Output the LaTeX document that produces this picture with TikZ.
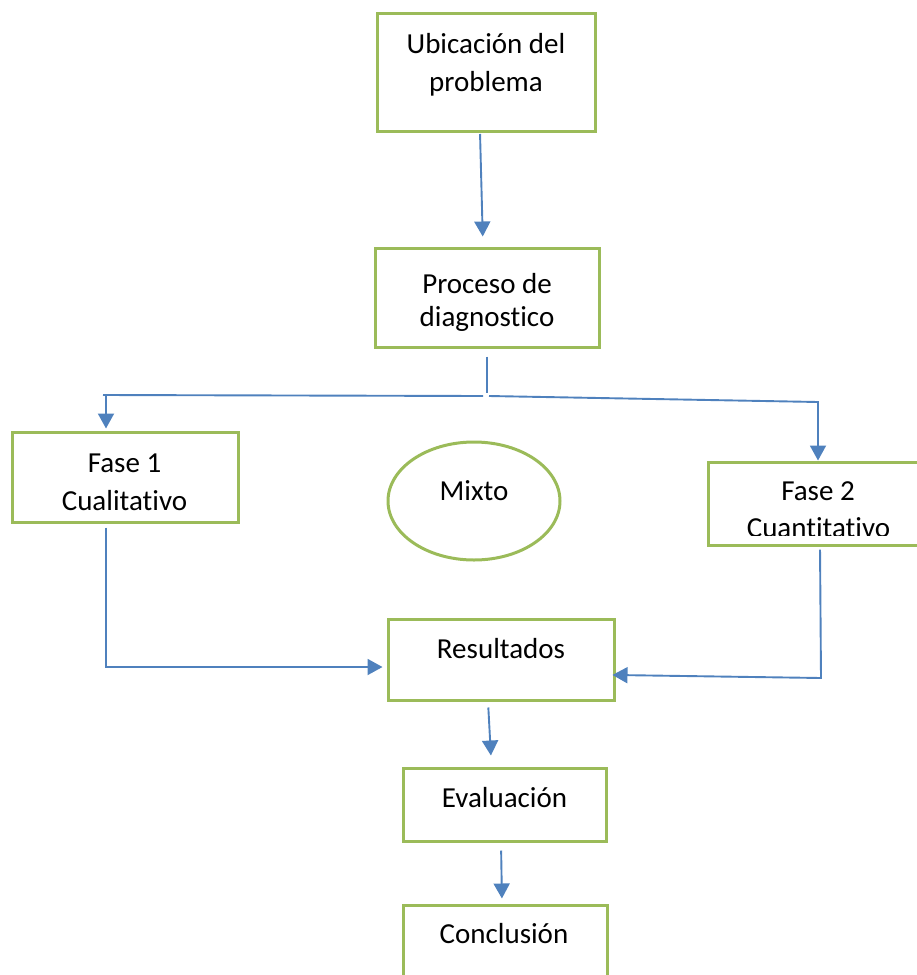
\documentclass[tikz,border=0pt]{standalone}
\usepackage{fontspec}
\setmainfont{Carlito}[Ligatures=NoCommon]
\usetikzlibrary{arrows.meta,shapes.geometric}
\definecolor{boxgreen}{HTML}{9BBB59}
\definecolor{linkblue}{HTML}{4F81BD}
\begin{document}
\begin{tikzpicture}[x=1pt,y=-1pt,
  box/.style={draw=boxgreen,line width=3pt,rectangle,inner sep=0pt},
  oval/.style={draw=boxgreen,line width=3pt,ellipse,inner sep=0pt},
  txt/.style={anchor=base,inner sep=0pt,font=\fontsize{29pt}{38pt}\selectfont},
  wire/.style={draw=linkblue,line width=1.9pt},
  link/.style={wire,-{Triangle[width=16pt,length=15pt]}}]
\useasboundingbox (0,0) rectangle (917,975);
\clip (0,0) rectangle (917,975);

% boxes
\node[box,minimum width=218pt,minimum height=118pt] (ubic) at (486,72) {};
\node[box,minimum width=224pt,minimum height=99pt] (proc) at (487,297.5) {};
\node[box,minimum width=226pt,minimum height=90pt] (fase1) at (125,477) {};
\node[oval,minimum width=172pt,minimum height=118pt] (mixto) at (474,501) {};
\node[box,minimum width=226pt,minimum height=81pt] (result) at (501,659.5) {};
\node[box,minimum width=203pt,minimum height=73pt] (evalua) at (504.5,804.5) {};
\node[box,minimum width=204pt,minimum height=80pt] (concl) at (505,945) {};

% labels
\node[txt] (ubicA) at (486,53) {Ubicación del};
\node[txt] (ubicB) at (486,91) {problema};
\node[txt] (procA) at (487,293) {Proceso de};
\node[txt] (procB) at (487,326) {diagnostico};
\node[txt] (fase1A) at (124.5,472) {Fase 1};
\node[txt] (fase1B) at (124.5,510) {Cualitativo};
\node[txt] (mixtoT) at (474,500) {Mixto};
\node[txt] (resultT) at (501,658) {Resultados};
\node[txt] (evaluaT) at (504.5,807) {Evaluación};
\node[txt] (conclT) at (504,943) {Conclusión};

% second phase: its lower line is trimmed by the box edge
\begin{scope}
  \clip (700,455) rectangle (917,535);
  \node[txt] (fase2A) at (818,500) {Fase 2};
  \node[txt] (fase2B) at (818.5,537) {Cuantitativo};
\end{scope}
\node[box,minimum width=220pt,minimum height=83pt] (fase2) at (818,503.5) {};

% connectors
\draw[link,shorten <=1.5pt,shorten >=10pt] ([xshift=-6pt]ubic.south) -- ([xshift=-4pt]proc.north);

\coordinate (fork) at (487,393);
\coordinate (forkL) at (483,396);
\coordinate (cornerL) at (103,395);
\coordinate (dropL) at (106,395.5);
\coordinate (forkR) at (489,396);
\coordinate (cornerR) at (818,402);
\draw[wire,shorten <=8pt] (proc.south) -- (fork);
\draw[wire] (forkL) -- (cornerL);
\draw[link,shorten >=2pt] (dropL) -- ([xshift=-19pt]fase1.north);
\draw[link] (forkR) -- (cornerR) -- (fase2.north);

\draw[link,shorten <=4pt,shorten >=4pt] ([xshift=-19pt]fase1.south) |- ([yshift=-7.5pt]result.west);

\coordinate (cornerF2) at (821,678);
\draw[link,shorten <=3pt,shorten >=-3pt] ([xshift=2pt]fase2.south) -- (cornerF2) -- ([yshift=-15.5pt]result.east);

\draw[link,shorten <=6pt,shorten >=11pt] ([xshift=-13pt]result.south) -- ([xshift=-13pt]evalua.north);
\draw[link,shorten <=8pt,shorten >=5pt] ([xshift=-3.5pt]evalua.south) -- ([xshift=-3pt]concl.north);
\end{tikzpicture}
\end{document}
